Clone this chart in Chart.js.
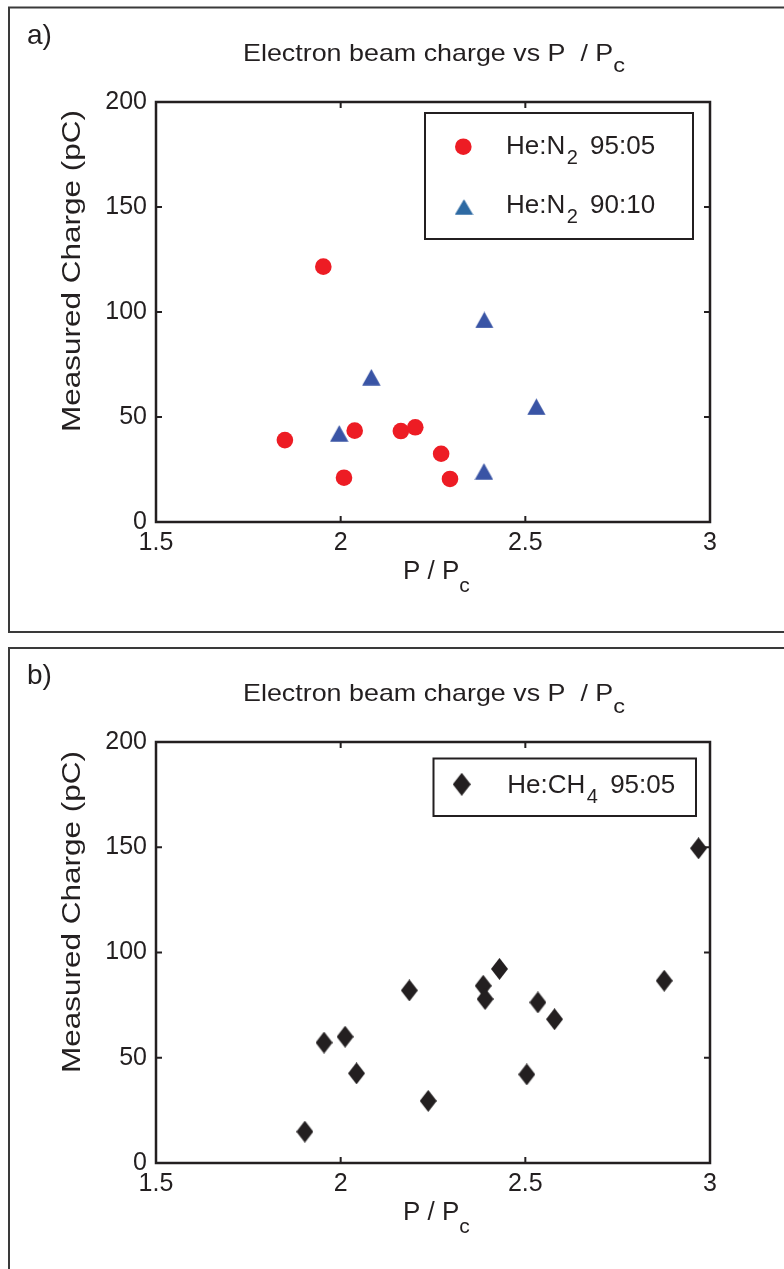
<!DOCTYPE html>
<html>
<head>
<meta charset="utf-8">
<script src="https://cdn.jsdelivr.net/npm/chart.js@4/dist/chart.umd.min.js"></script>
<style>
  html, body { margin: 0; padding: 0; background: #fff; }
  #wrap { position: relative; width: 784px; height: 1269px; overflow: hidden; background: #fff; }
  canvas { position: absolute; left: 0; }
</style>
</head>
<body>
<div id="wrap">
  <canvas id="panelA" width="784" height="640" style="top:0;width:784px;height:640px"></canvas>
  <canvas id="panelB" width="784" height="629" style="top:640px;width:784px;height:629px"></canvas>
</div>
<script>
const FONT = '"Liberation Sans", Arial, Helvetica, sans-serif';
const INK = '#231F20';

// axis ticks
const ratioTicks = [1.5, 2, 2.5, 3];
const chargeTicks = [0, 50, 100, 150, 200];

// panel a: He:N2 95:05
const ratioN2_95  = [1.953, 1.849, 2.038, 2.009, 2.163, 2.202, 2.272, 2.296];
const chargeN2_95 = [121.6, 39.0, 43.5, 21.1, 43.3, 45.1, 32.5, 20.5];
// panel a: He:N2 90:10
const ratioN2_90  = [2.389, 2.083, 2.530, 1.996, 2.388];
const chargeN2_90 = [96.2, 68.9, 54.9, 42.2, 24.1];
// panel b: He:CH4 95:05
const ratioCH4  = [1.903, 1.955, 2.012, 2.043, 2.186, 2.237, 2.386, 2.391, 2.430, 2.534, 2.579, 2.504, 2.876, 2.969];
const chargeCH4 = [14.9, 57.2, 60.0, 42.6, 82.0, 29.5, 84.2, 77.9, 92.2, 76.3, 68.3, 42.1, 86.6, 149.5];

// text runs: [text, isSubscript, extra gap before the run]
const titleParts  = [['Electron beam charge vs P  / P'], ['c', true]];
const xLabelParts = [['P / P'], ['c', true]];
const yLabelParts = [['Measured Charge (pC)']];
const legendN2_95 = [['He:N'], ['2', true, 1.5], [' 95:05', false, 5]];
const legendN2_90 = [['He:N'], ['2', true, 1.5], [' 90:10', false, 5]];
const legendCH4   = [['He:CH'], ['4', true, 1.5], [' 95:05', false, 5]];

const RED = '#ED1C24';
const BLUE = '#3954A5';
const BLUE_KEY = '#2E6AA3';

const pts = (xs, ys) => xs.map((x, i) => ({ x, y: ys[i] }));

function triangleMarker(color, w, h) {
  const c = document.createElement('canvas');
  c.width = w; c.height = h;
  const g = c.getContext('2d');
  g.fillStyle = color;
  g.beginPath();
  g.moveTo(w / 2, 0.3);
  g.lineTo(w - 0.3, h - 0.3);
  g.lineTo(0.3, h - 0.3);
  g.closePath();
  g.fill();
  return c;
}

function diamondMarker(color, w, h) {
  const c = document.createElement('canvas');
  c.width = w; c.height = h;
  const g = c.getContext('2d');
  g.fillStyle = color;
  g.beginPath();
  g.moveTo(w / 2, 0);
  g.lineTo(w, h / 2);
  g.lineTo(w / 2, h);
  g.lineTo(0, h / 2);
  g.closePath();
  g.fill();
  return c;
}

const triPlot = triangleMarker(BLUE, 19, 17);
const triKey = triangleMarker(BLUE_KEY, 19, 16);
const diamond = diamondMarker(INK, 17, 22);
const diamondKey = diamondMarker(INK, 18, 23);

// text run with optional subscripts, optionally stretched to a given length
function drawRich(ctx, parts, x, y, o) {
  ctx.save();
  ctx.translate(x, y);
  if (o.rotate) ctx.rotate(o.rotate);
  let natural = 0;
  const runs = parts.map(([text, sub, gap]) => {
    const size = sub ? o.subSize : o.size;
    ctx.font = `${size}px ${FONT}`;
    const w = ctx.measureText(text).width;
    natural += w + (gap || 0);
    return { text, sub, size, w, gap: gap || 0 };
  });
  const sx = o.width ? o.width / natural : 1;
  ctx.scale(sx, 1);
  ctx.fillStyle = INK;
  ctx.textAlign = 'left';
  ctx.textBaseline = 'alphabetic';
  let cx = 0;
  runs.forEach(r => {
    cx += r.gap;
    ctx.font = `${r.size}px ${FONT}`;
    ctx.fillText(r.text, cx, r.sub ? o.subDrop : 0);
    cx += r.w;
  });
  ctx.restore();
}

function decor(d) {
  return {
    id: 'decor',
    beforeDraw(chart) {
      const ctx = chart.ctx;
      ctx.save();
      ctx.fillStyle = '#fff';
      ctx.fillRect(0, 0, chart.width, chart.height);
      // panel frame
      ctx.strokeStyle = '#3a3a3a';
      ctx.lineWidth = 2;
      ctx.strokeRect(d.frame[0], d.frame[1], d.frame[2], d.frame[3]);
      // panel tag
      ctx.fillStyle = INK;
      ctx.font = `28px ${FONT}`;
      ctx.textAlign = 'left';
      ctx.textBaseline = 'alphabetic';
      ctx.fillText(d.tag, 27, d.tagBase);
      // title and axis titles
      drawRich(ctx, titleParts, 243, d.titleBase, { size: 24, subSize: 21, subDrop: 11.5, width: 382 });
      drawRich(ctx, xLabelParts, 403, d.xlabBase, { size: 26, subSize: 21, subDrop: 13 });
      drawRich(ctx, yLabelParts, 80, d.ylabStart, { size: 26, rotate: -Math.PI / 2, width: 322 });
      ctx.restore();
    },
    beforeDatasetsDraw(chart) {
      const ctx = chart.ctx;
      const a = chart.chartArea;
      const xs = chart.scales.x, ys = chart.scales.y;
      ctx.save();
      ctx.strokeStyle = INK;
      ctx.lineWidth = 2.5;
      ctx.strokeRect(a.left, a.top, a.right - a.left, a.bottom - a.top);
      ctx.lineWidth = 2;
      ctx.beginPath();
      const T = 6;
      xs.ticks.forEach(t => {
        if (t.value <= xs.min || t.value >= xs.max) return;
        const px = xs.getPixelForValue(t.value);
        ctx.moveTo(px, a.bottom); ctx.lineTo(px, a.bottom - T);
        ctx.moveTo(px, a.top); ctx.lineTo(px, a.top + T);
      });
      ys.ticks.forEach(t => {
        if (t.value <= ys.min || t.value >= ys.max) return;
        const py = ys.getPixelForValue(t.value);
        ctx.moveTo(a.left, py); ctx.lineTo(a.left + T, py);
        ctx.moveTo(a.right, py); ctx.lineTo(a.right - T, py);
      });
      ctx.stroke();
      ctx.restore();
    },
    afterDraw(chart) {
      const ctx = chart.ctx;
      const L = d.legend;
      ctx.save();
      ctx.fillStyle = '#fff';
      ctx.fillRect(L.box[0], L.box[1], L.box[2], L.box[3]);
      ctx.strokeStyle = INK;
      ctx.lineWidth = 2;
      ctx.strokeRect(L.box[0], L.box[1], L.box[2], L.box[3]);
      L.items.forEach(it => {
        if (it.marker === 'circle') {
          ctx.fillStyle = it.color;
          ctx.beginPath();
          ctx.arc(it.cx, it.cy, 8.3, 0, Math.PI * 2);
          ctx.fill();
        } else {
          ctx.drawImage(it.marker, it.cx - it.marker.width / 2, it.cy - it.marker.height / 2);
        }
        drawRich(ctx, it.parts, it.tx, it.base, { size: 26, subSize: 20, subDrop: 9.5 });
      });
      ctx.restore();
    }
  };
}

function makeChart(id, H, datasets, d) {
  return new Chart(document.getElementById(id), {
    type: 'scatter',
    data: { datasets },
    options: {
      responsive: false,
      maintainAspectRatio: false,
      animation: false,
      devicePixelRatio: 1,
      layout: { padding: { top: 102, right: 74, left: 0, bottom: 0 } },
      plugins: { legend: { display: false }, tooltip: { enabled: false }, title: { display: false } },
      scales: {
        x: {
          type: 'linear', min: 1.5, max: 3,
          afterBuildTicks: s => { s.ticks = ratioTicks.map(v => ({ value: v })); },
          afterFit: s => { s.height = H - d.plotBottom; },
          grid: { display: false, drawTicks: false },
          border: { display: false },
          ticks: {
            font: { family: FONT, size: 25 }, color: INK, padding: 6,
            maxRotation: 0, autoSkip: false, callback: v => String(v)
          }
        },
        y: {
          type: 'linear', min: 0, max: 200,
          afterBuildTicks: s => { s.ticks = chargeTicks.map(v => ({ value: v })); },
          afterFit: s => { s.width = 156; },
          grid: { display: false, drawTicks: false },
          border: { display: false },
          ticks: {
            font: { family: FONT, size: 25 }, color: INK, padding: 9,
            autoSkip: false, callback: v => String(v)
          }
        }
      }
    },
    plugins: [decor(d)]
  });
}

makeChart('panelA', 640, [
  { label: 'He:N2 95:05', data: pts(ratioN2_95, chargeN2_95), pointStyle: 'circle',
    pointRadius: 8.3, backgroundColor: RED, borderWidth: 0 },
  { label: 'He:N2 90:10', data: pts(ratioN2_90, chargeN2_90), pointStyle: triPlot,
    pointRadius: 9, backgroundColor: BLUE, borderWidth: 0 }
], {
  tag: 'a)', tagBase: 43.5, titleBase: 60.5, xlabBase: 579, ylabStart: 432, plotBottom: 522,
  frame: [9, 7.5, 800, 624.5],
  legend: {
    box: [425, 113, 268, 126],
    items: [
      { marker: 'circle', color: RED, cx: 463.3, cy: 146.7, tx: 506, base: 154, parts: legendN2_95 },
      { marker: triKey, cx: 464, cy: 207, tx: 506, base: 213.3, parts: legendN2_90 }
    ]
  }
});

makeChart('panelB', 629, [
  { label: 'He:CH4 95:05', data: pts(ratioCH4, chargeCH4), pointStyle: diamond,
    pointRadius: 9, backgroundColor: INK, borderWidth: 0 }
], {
  tag: 'b)', tagBase: 43.8, titleBase: 61, xlabBase: 580, ylabStart: 433, plotBottom: 523,
  frame: [9, 8, 800, 700],
  legend: {
    box: [433.5, 118.5, 262.5, 57.5],
    items: [
      { marker: diamondKey, cx: 461.7, cy: 144.3, tx: 507.3, base: 153.3, parts: legendCH4 }
    ]
  }
});
</script>
</body>
</html>
